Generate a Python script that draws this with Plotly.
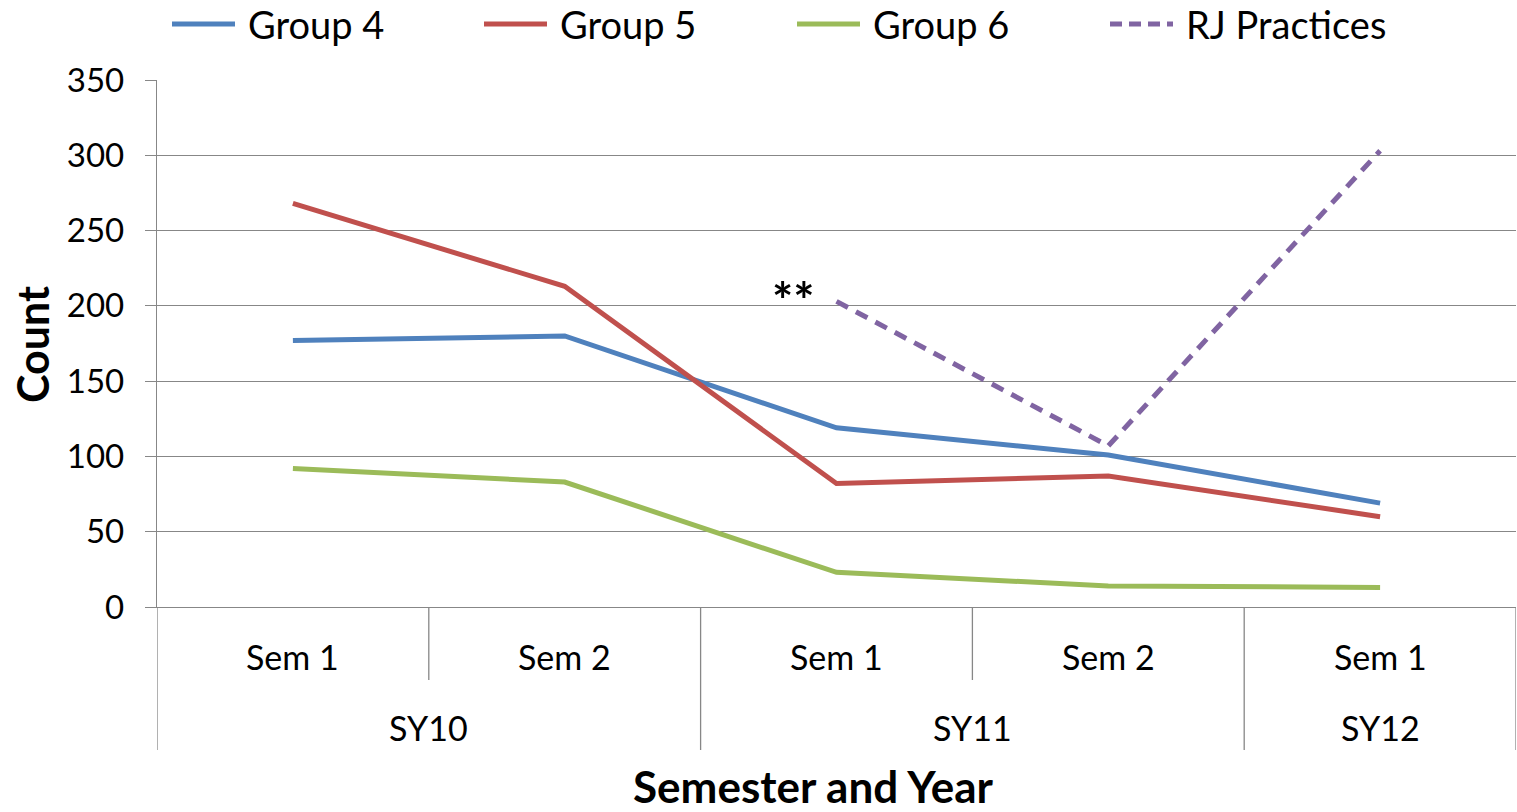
import plotly.graph_objects as go

semesters = ["Sem 1", "Sem 2", "Sem 1", "Sem 2", "Sem 1"]
years = ["SY10", "SY11", "SY12"]
year_spans = [(0, 1), (2, 3), (4, 4)]
group4 = [177, 180, 119, 101, 69]
group5 = [268, 213, 82, 87, 60]
group6 = [92, 83, 23, 14, 13]
rj_practices = [None, None, 203, 107, 303]
y_ticks = [0, 50, 100, 150, 200, 250, 300, 350]

FONT = "Lato"
GRID = "#878787"
series = [
    ("Group 4", group4, "#4F81BD", "solid"),
    ("Group 5", group5, "#C0504D", "solid"),
    ("Group 6", group6, "#9BBB59", "solid"),
    ("RJ Practices", rj_practices, "#8064A2", "13px,9px"),
]

x = list(range(len(semesters)))
fig = go.Figure()
for name, vals, color, dash in series:
    fig.add_trace(go.Scatter(x=x, y=vals, mode="lines", name=name,
                             line=dict(color=color, width=5, dash=dash),
                             showlegend=False))

W, H = 1517, 812
L, R, T, B = 157, 1, 80, 205
pw, ph = W - L - R, H - T - B

def py(pix):
    return (H - B - pix) / ph

def px(pix):
    return (pix - L) / pw

shapes = []
annotations = []

# category dividers
for i in range(len(semesters) + 1):
    xv = i - 0.5
    long_ = i in (0, len(semesters)) or any(i == s for s, e in year_spans)
    shapes.append(dict(type="line", xref="x", yref="paper", x0=xv, x1=xv,
                       y0=0, y1=py(750) if long_ else py(680),
                       line=dict(color=GRID, width=1.3)))
for i, s in enumerate(semesters):
    annotations.append(dict(x=i, y=py(656), xref="x", yref="paper", text=s,
                            showarrow=False, font=dict(size=34, color="black", family=FONT),
                            xanchor="center", yanchor="middle"))
for yname, (s, e) in zip(years, year_spans):
    annotations.append(dict(x=(s + e) / 2, y=py(727), xref="x", yref="paper", text=yname,
                            showarrow=False, font=dict(size=34, color="black", family=FONT),
                            xanchor="center", yanchor="middle"))

# axis titles
annotations.append(dict(x=px(813), y=py(786), xref="paper", yref="paper",
                        text="<b>Semester and Year</b>", showarrow=False,
                        font=dict(size=44, color="black", family=FONT),
                        xanchor="center", yanchor="middle"))
annotations.append(dict(x=px(32), y=py(345), xref="paper", yref="paper",
                        text="<b>Count</b>", showarrow=False, textangle=-90,
                        font=dict(size=43, color="black", family=FONT),
                        xanchor="center", yanchor="middle"))

# ** marker next to the first RJ Practices point
annotations.append(dict(x=2 - 0.16, y=rj_practices[2] + 1, xref="x", yref="y", text="<b>**</b>",
                        showarrow=False, font=dict(size=50, color="black", family=FONT),
                        xanchor="center", yanchor="middle"))

# legend (drawn manually to match long line samples)
legend_x = [172, 484, 797, 1110]
for (name, vals, color, dash), lx in zip(series, legend_x):
    shapes.append(dict(type="line", xref="paper", yref="paper",
                       x0=px(lx), x1=px(lx + 63), y0=py(24), y1=py(24),
                       line=dict(color=color, width=5, dash="12px,7px" if dash != "solid" else "solid")))
    annotations.append(dict(x=px(lx + 74), y=py(24), xref="paper", yref="paper", text=name,
                            showarrow=False, font=dict(size=38, color="black", family=FONT),
                            xanchor="left", yanchor="middle"))

fig.update_layout(
    width=W, height=H,
    margin=dict(l=L, r=R, t=T, b=B, pad=0),
    paper_bgcolor="white", plot_bgcolor="white",
    shapes=shapes, annotations=annotations,
    font=dict(family=FONT, color="black"),
)
fig.update_xaxes(range=[-0.5, 4.5], showgrid=False, zeroline=False, showticklabels=False,
                 showline=True, linecolor=GRID, linewidth=1.3, ticks="")
fig.update_yaxes(range=[0, 350], tickvals=y_ticks, showgrid=True, gridcolor=GRID, gridwidth=1.3,
                 zeroline=False, showline=True, linecolor=GRID, linewidth=1.3,
                 ticks="outside", ticklen=11, tickcolor=GRID, tickwidth=1.3,
                 ticklabelstandoff=14,
                 tickfont=dict(size=33, color="black", family=FONT))

fig.write_html("out.html", config={"displayModeBar": False},
               post_script="document.body.style.margin='0';document.body.style.overflow='hidden';")
